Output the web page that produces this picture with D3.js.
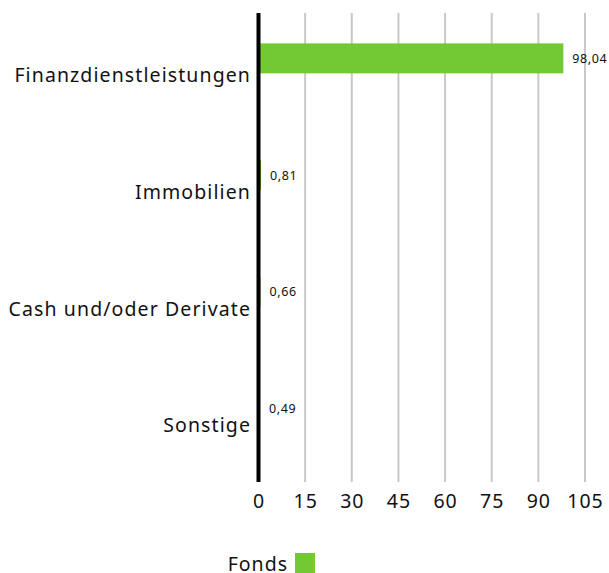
<!DOCTYPE html>
<html>
<head>
<meta charset="utf-8">
<title>Sektoren</title>
<script src="https://cdnjs.cloudflare.com/ajax/libs/d3/7.8.5/d3.min.js"></script>
<style>
  body { margin: 0; background: #fff; }
  text { font-family: "Noto Sans", sans-serif; fill: #111; }
</style>
</head>
<body>
<div id="chart"></div>
<script>
// values
var categories = ["Finanzdienstleistungen", "Immobilien", "Cash und/oder Derivate", "Sonstige"];
var fonds = [98.04, 0.81, 0.66, 0.49];
var labels = ["98,04", "0,81", "0,66", "0,49"];
var ticks = [0, 15, 30, 45, 60, 75, 90, 105];
var seriesName = "Fonds";

var W = 609, H = 573;
var green = "#72c933";

var svg = d3.select("#chart").append("svg")
    .attr("width", W).attr("height", H);

var x = d3.scaleLinear().domain([0, 105]).range([258.5, 585]);
var y = d3.scaleBand().domain(categories).range([13, 480]);

// grid lines
svg.append("g").selectAll("line")
    .data(ticks.slice(1))
    .enter().append("line")
    .attr("x1", function(d){ return x(d); })
    .attr("x2", function(d){ return x(d); })
    .attr("y1", 13).attr("y2", 482)
    .attr("stroke", "#c8c8c8").attr("stroke-width", 2);

// bars
svg.append("g").selectAll("rect")
    .data(fonds)
    .enter().append("rect")
    .attr("x", x(0))
    .attr("y", function(d, i){ return y(categories[i]) + y.bandwidth()/2 - 28; })
    .attr("width", function(d){ return x(d) - x(0); })
    .attr("height", 30)
    .attr("fill", green);

// value labels
svg.append("g").selectAll("text")
    .data(fonds)
    .enter().append("text")
    .attr("x", function(d){ return x(d) + 9; })
    .attr("y", function(d, i){ return y(categories[i]) + y.bandwidth()/2 - 13; })
    .attr("dy", "0.35em")
    .style("font-size", "12.5px")
    .style("letter-spacing", "0.6px")
    .text(function(d, i){ return labels[i]; });

// category labels
svg.append("g").selectAll("text")
    .data(categories)
    .enter().append("text")
    .attr("x", 251)
    .attr("y", function(d){ return y(d) + y.bandwidth()/2 + 4; })
    .attr("dy", "0.35em")
    .attr("text-anchor", "end")
    .style("font-size", "19.5px")
    .style("letter-spacing", "1.1px")
    .text(function(d){ return d; });

// axis line
svg.append("line")
    .attr("x1", x(0)).attr("x2", x(0))
    .attr("y1", 13).attr("y2", 482)
    .attr("stroke", "#000").attr("stroke-width", 4);

// tick labels
svg.append("g").selectAll("text")
    .data(ticks)
    .enter().append("text")
    .attr("x", function(d){ return x(d) + 0.5; })
    .attr("y", 501)
    .attr("dy", "0.35em")
    .attr("text-anchor", "middle")
    .style("font-size", "19.5px")
    .style("letter-spacing", "1px")
    .text(function(d){ return d; });

// legend
svg.append("text")
    .attr("x", 288).attr("y", 564)
    .attr("dy", "0.35em")
    .attr("text-anchor", "end")
    .style("font-size", "19.5px")
    .style("letter-spacing", "1px")
    .text(seriesName);
svg.append("rect")
    .attr("x", 295).attr("y", 553)
    .attr("width", 20).attr("height", 20)
    .attr("fill", green);
</script>
</body>
</html>
